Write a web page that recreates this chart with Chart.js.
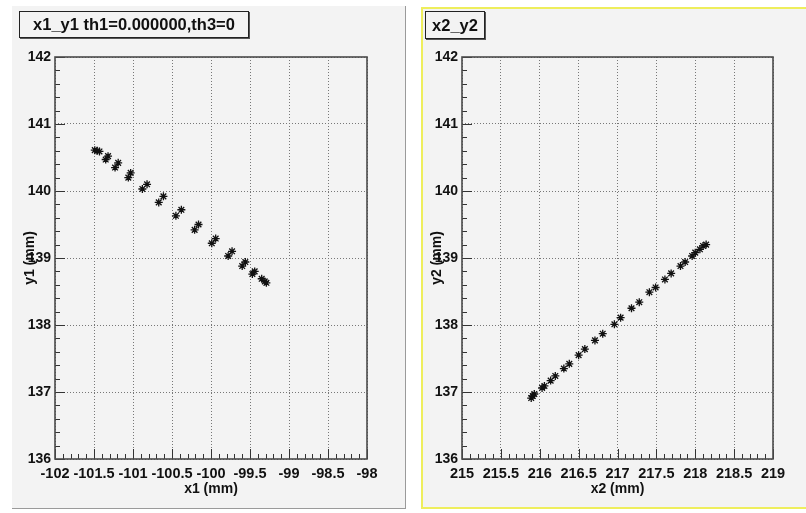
<!DOCTYPE html>
<html>
<head>
<meta charset="utf-8">
<script src="https://cdn.jsdelivr.net/npm/chart.js@4/dist/chart.umd.min.js"></script>
<style>
    body { margin: 0; background: #fff; width: 806px; height: 513px; position: relative; overflow: hidden; }
    .pad { position: absolute; background: #f3f3f3; box-sizing: border-box; }
    #pad1 { left: 12px; top: 6px; width: 394px; height: 503px; border-right: 1px solid #9a9a9a; border-bottom: 1px solid #9a9a9a; }
    #pad2 { left: 421px; top: 7px; width: 390px; height: 502px; border: 2px solid #eeee5c; }
    canvas { position: absolute; top: 0; }
    #c1 { left: 0; }
    #c2 { left: 403px; }
    .ptitle { position: absolute; box-sizing: border-box; background: #f3f3f3; border: 1px solid #222;
              box-shadow: 1px 1px 0 #555; font: bold 16.5px "Liberation Sans", Arial, sans-serif;
              color: #111; text-align: center; }
    #t1 { left: 19px; top: 11px; width: 230px; height: 27px; line-height: 25px; }
    #t2 { left: 425px; top: 11px; width: 60px; height: 28px; line-height: 26px; }
</style>
</head>
<body>
<div class="pad" id="pad1"></div>
<div class="pad" id="pad2"></div>
<canvas id="c1" width="403" height="513"></canvas>
<canvas id="c2" width="403" height="513"></canvas>
<div class="ptitle" id="t1">x1_y1 th1=0.000000,th3=0</div>
<div class="ptitle" id="t2">x2_y2</div>
<script>
// Data
const x1Values = [-101.49, -101.46, -101.43, -101.35, -101.32, -101.23, -101.19, -101.06, -101.03, -100.88,
    -100.82, -100.67, -100.61, -100.45, -100.38, -100.21, -100.16, -99.99, -99.94, -99.78,
    -99.73, -99.60, -99.56, -99.47, -99.44, -99.35, -99.31, -99.29];
const y1Values = [140.61, 140.60, 140.59, 140.47, 140.52, 140.35, 140.42, 140.20, 140.27, 140.03,
    140.10, 139.83, 139.92, 139.63, 139.72, 139.42, 139.50, 139.22, 139.29, 139.03,
    139.10, 138.88, 138.94, 138.76, 138.80, 138.69, 138.65, 138.63];

const x2Values = [215.89, 215.91, 215.93, 216.03, 216.06, 216.14, 216.20, 216.31, 216.38, 216.50,
    216.58, 216.71, 216.81, 216.96, 217.04, 217.18, 217.28, 217.41, 217.49, 217.61,
    217.69, 217.81, 217.87, 217.96, 218.00, 218.06, 218.10, 218.14];
const y2Values = [136.91, 136.94, 136.97, 137.06, 137.09, 137.17, 137.24, 137.35, 137.42, 137.55,
    137.64, 137.77, 137.87, 138.01, 138.11, 138.25, 138.34, 138.49, 138.56, 138.68,
    138.77, 138.88, 138.94, 139.03, 139.08, 139.13, 139.18, 139.20];

// Axis ranges and titles
const x1Range = [-102, -98];
const x2Range = [215, 219];
const yRange = [136, 142];
const axisTitles = ["x1 (mm)", "y1 (mm)", "x2 (mm)", "y2 (mm)"];

const FONT = "'Liberation Sans', Arial, sans-serif";

// Frame plus ROOT-style inner ticks (major + minor)
const frameAndTicks = {
    id: "frameAndTicks",
    afterDraw(chart, args, opts) {
        const { ctx, chartArea: a, scales: { x, y } } = chart;
        ctx.save();
        ctx.strokeStyle = "#333";
        ctx.lineWidth = 1;
        ctx.beginPath();
        const nx = Math.round((x.max - x.min) / opts.xMinor);
        for (let i = 0; i <= nx; i++) {
            const px = Math.round(x.getPixelForValue(x.min + i * opts.xMinor)) + 0.5;
            const len = i % 5 === 0 ? 10 : 5;
            ctx.moveTo(px, a.bottom);
            ctx.lineTo(px, a.bottom - len);
        }
        const ny = Math.round((y.max - y.min) / opts.yMinor);
        for (let i = 0; i <= ny; i++) {
            const py = Math.round(y.getPixelForValue(y.min + i * opts.yMinor)) + 0.5;
            const len = i % 5 === 0 ? 10 : 5;
            ctx.moveTo(a.left, py);
            ctx.lineTo(a.left + len, py);
        }
        ctx.stroke();

        ctx.strokeStyle = "#4a4a4a";
        ctx.lineWidth = 1.6;
        ctx.strokeRect(a.left, a.top, a.right - a.left, a.bottom - a.top);
        ctx.restore();
    },
};

function toPoints(xs, ys) {
    return xs.map((v, i) => ({ x: v, y: ys[i] }));
}

function makeChart(canvasId, xs, ys, xRange, xTitle, yTitle, box) {
    return new Chart(document.getElementById(canvasId), {
        type: "scatter",
        data: {
            datasets: [{
                data: toPoints(xs, ys),
                pointStyle: "star",
                radius: 4,
                borderWidth: 1.3,
                borderColor: "#111",
                backgroundColor: "#111",
            }],
        },
        options: {
            responsive: false,
            animation: false,
            layout: { padding: { left: 0, top: box.top, right: box.right, bottom: box.bottom } },
            plugins: {
                legend: { display: false },
                tooltip: { enabled: false },
                frameAndTicks: { xMinor: 0.1, yMinor: 0.2 },
            },
            scales: {
                x: {
                    type: "linear",
                    min: xRange[0],
                    max: xRange[1],
                    afterFit: (s) => { s.height = box.xHeight; },
                    border: { display: false, dash: [1, 2] },
                    grid: { color: "#777", lineWidth: 1, drawTicks: false },
                    ticks: {
                        stepSize: 0.5, autoSkip: false, maxRotation: 0, minRotation: 0, padding: 6,
                        color: "#111", font: { family: FONT, size: 14.5, weight: "bold" },
                        callback: (v) => String(Math.round(v * 10) / 10),
                    },
                    title: {
                        display: true, text: xTitle, color: "#111",
                        font: { family: FONT, size: 14, weight: "bold" },
                        padding: { top: 0, bottom: 1.5 },
                    },
                },
                y: {
                    type: "linear",
                    min: yRange[0],
                    max: yRange[1],
                    afterFit: (s) => { s.width = box.yWidth; },
                    border: { display: false, dash: [1, 2] },
                    grid: { color: "#777", lineWidth: 1, drawTicks: false },
                    ticks: {
                        stepSize: 1, padding: 4, color: "#111",
                        font: { family: FONT, size: 14, weight: "bold" },
                        callback: (v) => String(Math.round(v)),
                    },
                    title: {
                        display: true, text: yTitle, color: "#111",
                        font: { family: FONT, size: 14, weight: "bold" },
                        padding: { top: box.yTitleX - 8.4, bottom: 0 },
                    },
                },
            },
        },
        plugins: [frameAndTicks],
    });
}

const chart1 = makeChart("c1", x1Values, y1Values, x1Range, axisTitles[0], axisTitles[1],
    { top: 57, right: 36, bottom: 14, xHeight: 40, yWidth: 55, yTitleX: 30 });
const chart2 = makeChart("c2", x2Values, y2Values, x2Range, axisTitles[2], axisTitles[3],
    { top: 57, right: 33, bottom: 14, xHeight: 40, yWidth: 59, yTitleX: 34 });
</script>
</body>
</html>
